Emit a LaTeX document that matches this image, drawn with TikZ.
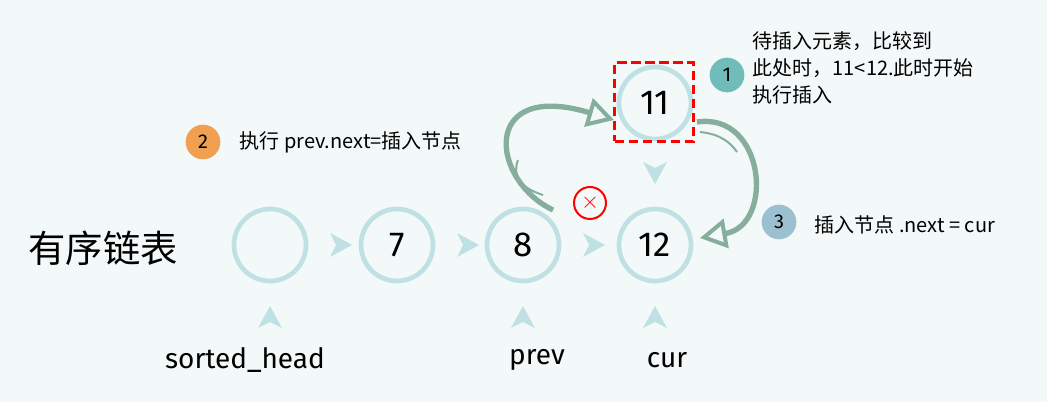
\documentclass[tikz,border=0pt]{standalone}
\usepackage{fontspec}
\setmainfont{Fira Sans}
\newfontfamily\cjk{Noto Sans CJK SC}
\usetikzlibrary{arrows.meta}
\definecolor{bg}{HTML}{F3F8F8}
\definecolor{ring}{HTML}{BFE1E3}
\definecolor{arr}{HTML}{86AE9C}
\definecolor{ba}{HTML}{6FBCBA}
\definecolor{bb}{HTML}{F0A050}
\definecolor{bc}{HTML}{9CC0D0}
\begin{document}
\begin{tikzpicture}[x=0.75pt,y=-0.75pt,
  nd/.style={circle,draw=ring,line width=3.5pt,minimum size=54pt,inner sep=0pt,font=\fontsize{26}{26}\selectfont},
  chev/.style={fill=ring,draw=none},
  badge/.style={circle,fill=#1,minimum size=26pt,inner sep=0pt,font=\fontsize{15}{15}\selectfont},
  lab/.style={font=\fontsize{21}{21}\selectfont},
  note/.style={font=\cjk\fontsize{15}{20}\selectfont,align=left},
  bigarr/.style={draw=arr,line width=4pt,-{Triangle[open,length=20pt,width=22pt,line width=3pt]}}]
\fill[bg] (0,0) rectangle (1047,402);
\useasboundingbox (0,0) rectangle (1047,402);
\node[font=\cjk\fontsize{28}{28}\selectfont] (title) at (103,248) {有序链表};
\node[nd] (n0) at (270,245) {};
\node[nd] (n7) at (397,245) {7};
\node[nd] (n8) at (523,245) {8};
\node[nd] (n12) at (655,245) {12};
\node[nd] (n11) at (655,103) {11};
% chevrons
\foreach \x in {340,467,593}{\fill[chev] (\x-10,233) -- (\x+12,245) -- (\x-10,257) -- (\x-4,245) -- cycle;}
\fill[chev] (643,162) -- (655,184) -- (667,162) -- (655,168) -- cycle;
\foreach \x/\n in {270/a,523/b,655/c}{\fill[chev] (\x-12,328) -- (\x,306) -- (\x+12,328) -- (\x,322) -- cycle;}
\node[lab] (sh) at (245,360) {sorted\_head};
\node[lab] (pv) at (537,360) {prev};
\node[lab] (cu) at (667,360) {cur};
% red box
\node[draw=red,dash pattern=on 7pt off 3.5pt,line width=2.5pt,minimum width=59pt,minimum height=59pt] (box) at (654,102) {};
% arrows
\draw[bigarr] (553,210) .. controls (490,180) and (480,80) .. (614,120);
\draw[arr,line width=1.5pt] (543,195) .. controls (520,188) and (512,175) .. (518,160);
\draw[bigarr] (697,122) .. controls (765,112) and (775,225) .. (700,238);
\draw[arr,line width=1.5pt] (700,132) .. controls (720,134) and (730,142) .. (737,152);
% red x
\node[circle,draw=red,line width=1.5pt,minimum size=24pt,inner sep=0pt,text=red,font=\fontsize{18}{18}\selectfont] (x) at (590,203) {$\times$};
% badges
\node[badge=ba] (b1) at (727,75) {1};
\node[badge=bb] (b2) at (203,142) {2};
\node[badge=bc] (b3) at (779,222) {3};
\node[note,anchor=west] (t1) at (748,68) {待插入元素，比较到\\此处时，11<12.此时开始\\执行插入};
\node[note,anchor=west] (t2) at (235,142) {执行 prev.next=插入节点};
\node[note,anchor=west] (t3) at (810,225) {插入节点 .next = cur};
\end{tikzpicture}
\end{document}
